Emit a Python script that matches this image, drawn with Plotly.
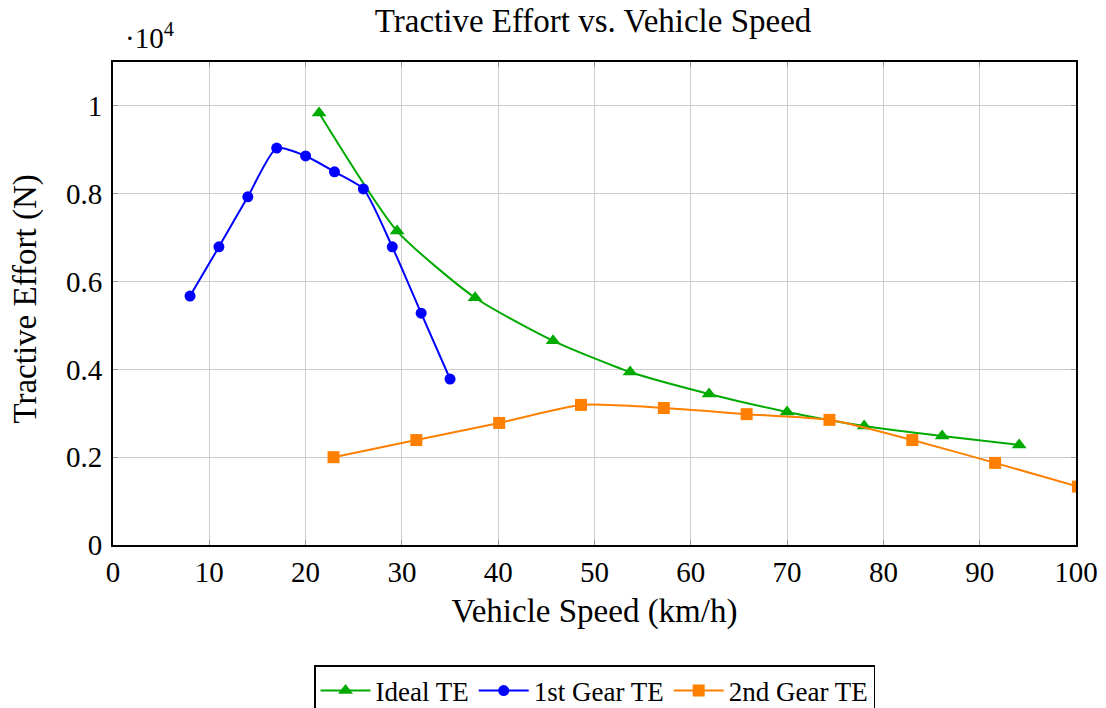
import plotly.graph_objects as go

# Ideal TE
ideal_x = [21.4, 29.5, 37.6, 45.7, 53.7, 61.9, 70.0, 78.0, 86.1, 94.1]
ideal_y = [0.984, 0.715, 0.563, 0.465, 0.394, 0.344, 0.303, 0.271, 0.248, 0.228]

# 1st Gear TE
g1_x = [8, 11, 14, 17, 20, 23, 26, 29, 32, 35]
g1_y = [0.567, 0.679, 0.793, 0.904, 0.886, 0.850, 0.811, 0.679, 0.528, 0.378]

# 2nd Gear TE
g2_x = [22.9, 31.5, 40.1, 48.6, 57.2, 65.8, 74.4, 83.0, 91.6, 100.2]
g2_y = [0.200, 0.239, 0.278, 0.319, 0.312, 0.298, 0.285, 0.239, 0.187, 0.133]

x_ticks = list(range(0, 101, 10))
y_ticks = [0, 0.2, 0.4, 0.6, 0.8, 1.0]
y_tick_text = ["0", "0.2", "0.4", "0.6", "0.8", "1"]

FONT = "Liberation Serif"

fig = go.Figure()
fig.add_trace(go.Scatter(x=ideal_x, y=ideal_y, name="Ideal TE", mode="lines+markers",
                         line=dict(color="#00aa00", width=2, shape="spline", smoothing=0.6),
                         marker=dict(symbol="triangle-up", size=13, color="#00aa00")))
fig.add_trace(go.Scatter(x=g1_x, y=g1_y, name="1st Gear TE", mode="lines+markers",
                         line=dict(color="#0000ff", width=2, shape="spline", smoothing=0.6),
                         marker=dict(symbol="circle", size=11, color="#0000ff")))
fig.add_trace(go.Scatter(x=g2_x, y=g2_y, name="2nd Gear TE", mode="lines+markers",
                         line=dict(color="#ff8000", width=2, shape="spline", smoothing=0.6),
                         marker=dict(symbol="square", size=12, color="#ff8000")))

axis_common = dict(showline=True, linecolor="black", linewidth=2, mirror="ticks",
                   ticks="inside", ticklen=5, tickcolor="#999999",
                   showgrid=True, gridcolor="#cccccc", gridwidth=1, zeroline=False,
                   automargin=False,
                   tickfont=dict(family=FONT, size=29, color="black"))

fig.update_layout(
    width=1106, height=708,
    paper_bgcolor="white", plot_bgcolor="white",
    margin=dict(l=105, r=38, t=54, b=171),
    title=dict(text="Tractive Effort vs. Vehicle Speed", x=0.4985, xanchor="center", xref="paper",
               y=0.983, yanchor="middle", font=dict(family=FONT, size=33, color="black")),
    xaxis=dict(range=[0, 100], tickvals=x_ticks,
               title=dict(text="Vehicle Speed (km/h)", font=dict(family=FONT, size=33, color="black"), standoff=12),
               **axis_common),
    yaxis=dict(range=[0, 1.1], tickvals=y_ticks, ticktext=y_tick_text, ticklabelstandoff=3,
               **axis_common),
    legend=dict(orientation="h", x=0.5, xanchor="center", xref="paper",
                y=0.072, yanchor="top", yref="container",
                bordercolor="black", borderwidth=1.5, bgcolor="white",
                font=dict(family=FONT, size=27, color="black"),
                itemwidth=50, tracegroupgap=0),
    showlegend=True,
)
fig.add_annotation(text="Tractive Effort (N)", xref="paper", yref="paper", x=-0.0905, y=0.51,
                   xanchor="center", yanchor="middle", textangle=-90, showarrow=False,
                   borderpad=0,
                   font=dict(family=FONT, size=33, color="black"))
fig.add_annotation(text="·10<sup>4</sup>", xref="paper", yref="paper", x=0.01, y=1.012,
                   xanchor="left", yanchor="bottom", showarrow=False,
                   font=dict(family=FONT, size=29, color="black"))

fig.write_html("out.html")
